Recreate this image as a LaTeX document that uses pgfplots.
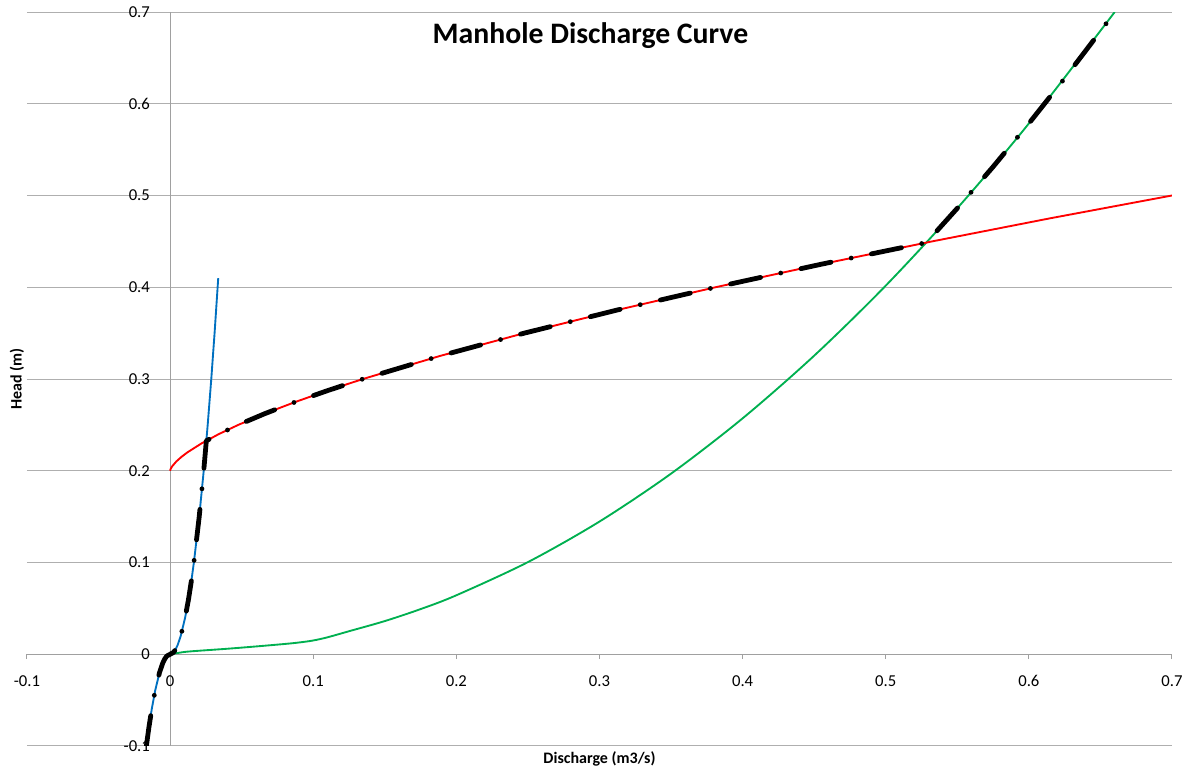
\documentclass[border=0pt]{standalone}
\usepackage{fontspec}
\setmainfont{Carlito}
\usepackage{pgfplots}
\pgfplotsset{compat=1.18}
\definecolor{gridc}{RGB}{175,175,175}
\definecolor{axc}{RGB}{160,160,160}
\definecolor{blu}{RGB}{0,112,192}
\definecolor{grn}{RGB}{0,176,80}
\definecolor{rd}{RGB}{255,0,0}
\begin{document}
\begin{tikzpicture}
\useasboundingbox (-20.25pt,-18.75pt) rectangle (871.5pt,559.5pt);
\begin{axis}[
  at={(0pt,0pt)}, anchor=south west,
  scale only axis, width=858.75pt, height=550.5pt,
  xmin=-0.1, xmax=0.7, ymin=-0.1, ymax=0.7,
  axis lines=middle,
  axis line style={draw=axc, line width=0.8pt, -},
  every inner x axis line/.append style={-},
  every inner y axis line/.append style={-},
  xtick={-0.1,0,0.1,0.2,0.3,0.4,0.5,0.6,0.7},
  ytick={-0.1,0,0.1,0.2,0.3,0.4,0.5,0.6,0.7},
  hide obscured x ticks=false, hide obscured y ticks=false,
  ymajorgrids, grid style={draw=gridc, line width=0.75pt},
  tick align=outside, major tick length=3.75pt,
  tick style={draw=axc, line width=0.75pt},
  ytick style={draw=none},
  /pgf/number format/assume math mode=true,
  /pgf/number format/fixed,
  tick label style={font=\fontsize{12.5}{14}\selectfont},
  xticklabel style={anchor=center, inner sep=0pt, yshift=-16.5pt},
  yticklabel style={anchor=east, inner sep=0pt, xshift=-11.25pt},
]
\addplot[draw=grn, line width=1.4pt, smooth] coordinates {
(0,0)(0.01,0.0025)(0.02,0.0038)(0.04,0.006)(0.06,0.0085)(0.08,0.0112)(0.09,0.0128)(0.1,0.015)(0.11,0.0185)(0.125,0.0251)(0.15,0.03616)(0.175,0.04921)(0.2,0.06428)(0.25,0.10044)(0.3,0.14463)(0.35,0.19686)(0.4,0.25712)(0.45,0.32542)(0.5,0.40175)(0.55,0.48612)(0.6,0.57852)(0.66,0.70005)};
\addplot[draw=rd, line width=1.4pt] coordinates {
(0,0.2)(0.0000476,0.2005)(0.000135,0.201)(0.000533,0.2025)(0.001506,0.205)(0.00426,0.21)(0.007826,0.215)(0.012049,0.22)(0.022136,0.23)(0.03408,0.24)(0.047628,0.25)(0.066563,0.2625)(0.087499,0.275)(0.110261,0.2875)(0.134713,0.3)(0.188267,0.325)(0.247484,0.35)(0.311865,0.375)(0.381026,0.4)(0.454659,0.425)(0.5325,0.45)(0.614339,0.475)(0.7,0.5)};
\addplot[draw=blu, line width=1.4pt] coordinates {
(-0.016602,-0.1)(-0.014849,-0.08)(-0.012860,-0.06)(-0.0105,-0.04)(-0.007425,-0.02)(-0.00525,-0.01)(-0.003712,-0.005)(-0.002348,-0.002)(0,0)(0.002348,0.002)(0.003712,0.005)(0.00525,0.01)(0.007425,0.02)(0.0105,0.04)(0.012860,0.06)(0.014849,0.08)(0.016602,0.1)(0.020333,0.15)(0.023479,0.2)(0.02625,0.25)(0.028755,0.3)(0.031059,0.35)(0.033616,0.41)};
\addplot[draw=black, line width=3.6pt, line cap=round, line join=round, dash pattern=on 23pt off 15.5pt on 0pt off 15.5pt] coordinates {
(-0.016602,-0.1)(-0.014849,-0.08)(-0.012860,-0.06)(-0.0105,-0.04)(-0.007425,-0.02)(-0.00525,-0.01)(-0.003712,-0.005)(-0.002348,-0.002)(0,0)(0.002348,0.002)(0.003712,0.005)(0.00525,0.01)(0.007425,0.02)(0.0105,0.04)(0.012860,0.06)(0.014849,0.08)(0.016602,0.1)(0.020333,0.15)(0.023479,0.2)(0.0253,0.2327)(0.03408,0.24)(0.047628,0.25)(0.066563,0.2625)(0.087499,0.275)(0.110261,0.2875)(0.134713,0.3)(0.188267,0.325)(0.247484,0.35)(0.311865,0.375)(0.381026,0.4)(0.454659,0.425)(0.5284,0.4487)(0.55,0.48612)(0.575,0.53131)(0.6,0.57852)(0.625,0.62773)(0.65,0.67896)(0.66,0.70005)};
\end{axis}
\node[font=\fontsize{22.3}{26}\selectfont\bfseries] at (422.6pt,532.5pt) {Manhole Discharge Curve};
\node[font=\fontsize{12}{14}\selectfont\bfseries] at (429.4pt,-9.75pt) {Discharge (m3/s)};
\node[font=\fontsize{12}{14}\selectfont\bfseries, rotate=90] at (-7.5pt,275.25pt) {Head (m)};
\end{tikzpicture}
\end{document}
